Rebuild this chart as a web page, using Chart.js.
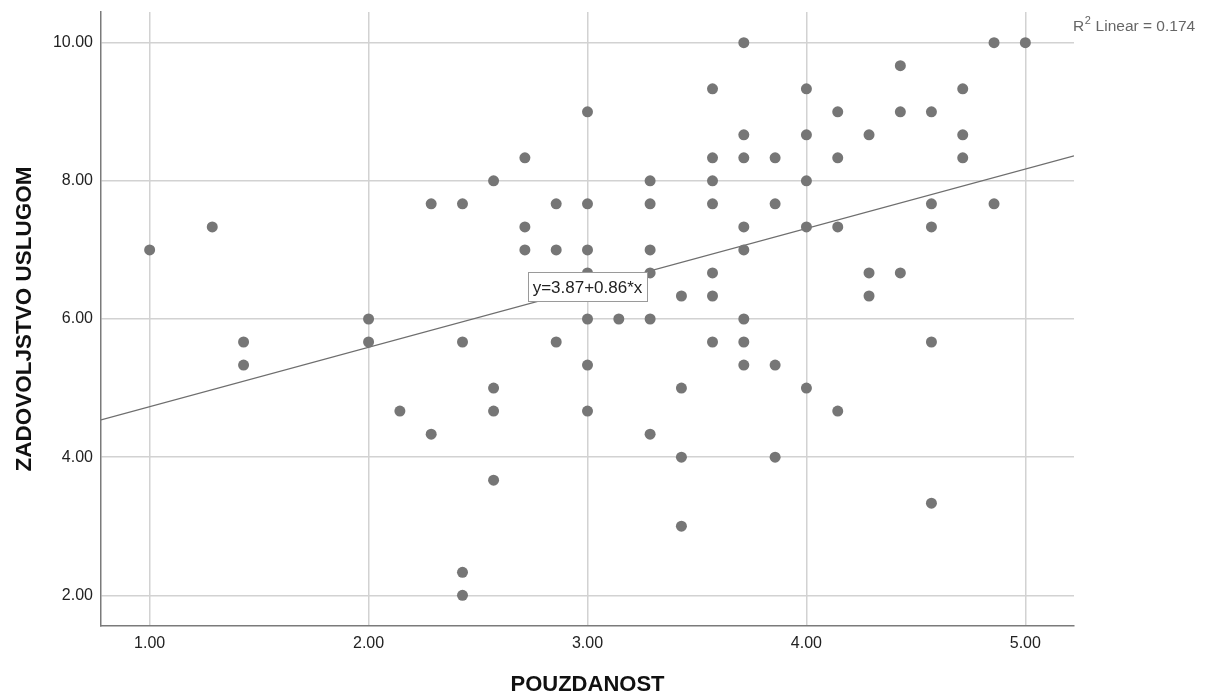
<!DOCTYPE html>
<html>
<head>
<meta charset="utf-8">
<script src="https://cdn.jsdelivr.net/npm/chart.js@4/dist/chart.umd.min.js"></script>
<style>
  html, body { margin: 0; padding: 0; background: #ffffff; }
  #wrap { width: 1206px; height: 700px; position: relative; }
</style>
</head>
<body>
<div id="wrap"><canvas id="c" width="1206" height="700"></canvas></div>
<script>
// ---- data ----
const pouzdanost = [
  1.000, 1.286, 1.429, 1.429, 2.000, 2.000, 2.143, 2.286, 2.286, 2.429,
  2.429, 2.429, 2.429, 2.571, 2.571, 2.571, 2.571, 2.714, 2.714, 2.714,
  2.857, 2.857, 2.857, 3.000, 3.000, 3.000, 3.000, 3.000, 3.000, 3.000,
  3.143, 3.286, 3.286, 3.286, 3.286, 3.286, 3.286, 3.429, 3.429, 3.429,
  3.429, 3.571, 3.571, 3.571, 3.571, 3.571, 3.571, 3.571, 3.714, 3.714,
  3.714, 3.714, 3.714, 3.714, 3.714, 3.714, 3.857, 3.857, 3.857, 3.857,
  4.000, 4.000, 4.000, 4.000, 4.000, 4.143, 4.143, 4.143, 4.143, 4.286,
  4.286, 4.286, 4.429, 4.429, 4.429, 4.571, 4.571, 4.571, 4.571, 4.571,
  4.714, 4.714, 4.714, 4.857, 4.857, 5.000
];
const zadovoljstvo = [
  7.000, 7.333, 5.667, 5.333, 6.000, 5.667, 4.667, 7.667, 4.333, 7.667,
  5.667, 2.333, 2.000, 8.000, 5.000, 4.667, 3.667, 8.333, 7.333, 7.000,
  7.667, 7.000, 5.667, 9.000, 7.667, 7.000, 6.667, 6.000, 5.333, 4.667,
  6.000, 8.000, 7.667, 7.000, 6.667, 6.000, 4.333, 6.333, 5.000, 4.000,
  3.000, 9.333, 8.333, 8.000, 7.667, 6.667, 6.333, 5.667, 10.000, 8.667,
  8.333, 7.333, 7.000, 6.000, 5.667, 5.333, 8.333, 7.667, 5.333, 4.000,
  9.333, 8.667, 8.000, 7.333, 5.000, 9.000, 8.333, 7.333, 4.667, 8.667,
  6.667, 6.333, 9.667, 9.000, 6.667, 9.000, 7.667, 7.333, 5.667, 3.333,
  9.333, 8.667, 8.333, 10.000, 7.667, 10.000
];
const xTicks = [1, 2, 3, 4, 5];
const yTicks = [2, 4, 6, 8, 10];
const xTitle = 'POUZDANOST';
const yTitle = 'ZADOVOLJSTVO USLUGOM';
const fitIntercept = 3.87;
const fitSlope = 0.86;
const fitLabel = 'y=3.87+0.86*x';
const r2Label = '0.174';

// ---- axis ranges (SPSS style margins) ----
const xMin = 1 - 4 / 18, xMax = 5 + 4 / 18;
const yMin = 2 - 8 / 18, yMax = 10 + 8 / 18;

const points = pouzdanost.map((x, i) => ({ x: x, y: zadovoljstvo[i] }));
const fitLine = [xMin, xMax].map(x => ({ x: x, y: fitIntercept + fitSlope * x }));

const FONT = "'Liberation Sans', Arial, sans-serif";

const annotPlugin = {
  id: 'annot',
  afterDatasetsDraw(chart) {
    const ctx = chart.ctx;
    const xs = chart.scales.x, ys = chart.scales.y;
    // equation label, centred on the fit line at x = 3
    const lx = 3.0;
    const px = xs.getPixelForValue(lx);
    const py = ys.getPixelForValue(fitIntercept + fitSlope * lx);
    ctx.save();
    ctx.font = '17px ' + FONT;
    const w = ctx.measureText(fitLabel).width + 9;
    const h = 29;
    const bx = Math.round(px - w / 2) + 0.5, by = Math.round(py - h / 2) - 0.5;
    ctx.fillStyle = '#ffffff';
    ctx.fillRect(bx, by, Math.round(w), h);
    ctx.strokeStyle = '#9a9a9a';
    ctx.lineWidth = 1;
    ctx.strokeRect(bx, by, Math.round(w), h);
    ctx.fillStyle = '#222222';
    ctx.textAlign = 'center';
    ctx.textBaseline = 'middle';
    ctx.fillText(fitLabel, px, py);
    ctx.restore();

    // R² label at top right
    ctx.save();
    ctx.fillStyle = '#666666';
    ctx.textBaseline = 'alphabetic';
    ctx.textAlign = 'left';
    let x0 = 1073;
    const base = 31;
    ctx.font = '15.5px ' + FONT;
    ctx.fillText('R', x0, base);
    x0 += ctx.measureText('R').width;
    ctx.font = '11px ' + FONT;
    ctx.fillText('2', x0 + 0.5, base - 7);
    x0 += ctx.measureText('2').width + 1;
    ctx.font = '15.5px ' + FONT;
    ctx.fillText(' Linear = ' + r2Label, x0, base);
    ctx.restore();
  }
};

new Chart(document.getElementById('c'), {
  type: 'scatter',
  data: {
    datasets: [
      {
        type: 'line',
        data: fitLine,
        borderColor: '#6e6e6e',
        borderWidth: 1.2,
        pointRadius: 0,
        fill: false,
        order: 2
      },
      {
        data: points,
        backgroundColor: '#767676',
        borderColor: '#767676',
        borderWidth: 0,
        pointRadius: 5.5,
        order: 1
      }
    ]
  },
  options: {
    responsive: false,
    animation: false,
    devicePixelRatio: 1,
    layout: { padding: { left: 0, right: 132, top: 12, bottom: 0 } },
    plugins: { legend: { display: false }, tooltip: { enabled: false } },
    scales: {
      x: {
        type: 'linear',
        min: xMin, max: xMax,
        afterFit(s) { s.height = 74; s.paddingLeft = 0; s.paddingRight = 0; },
        afterBuildTicks(s) { s.ticks = xTicks.map(v => ({ value: v })); },
        ticks: {
          includeBounds: false,
          stepSize: 1,
          padding: 8,
          color: '#222222',
          font: { family: FONT, size: 16 },
          callback: v => Number(v).toFixed(2)
        },
        grid: { color: '#d2d2d2', lineWidth: 1.5, drawTicks: false },
        border: { color: '#7a7a7a', width: 1.5 },
        title: {
          display: true, text: xTitle, color: '#111111',
          font: { family: FONT, size: 22, weight: 'bold' },
          padding: { top: 0, bottom: 2 }
        }
      },
      y: {
        type: 'linear',
        min: yMin, max: yMax,
        afterFit(s) { s.width = 101; s.paddingTop = 0; s.paddingBottom = 0; },
        afterBuildTicks(s) { s.ticks = yTicks.map(v => ({ value: v })); },
        ticks: {
          includeBounds: false,
          stepSize: 2,
          padding: 8,
          color: '#222222',
          font: { family: FONT, size: 16 },
          callback: v => Number(v).toFixed(2)
        },
        grid: { color: '#d2d2d2', lineWidth: 1.5, drawTicks: false },
        border: { color: '#7a7a7a', width: 1.5 },
        title: {
          display: true, text: yTitle, color: '#111111',
          font: { family: FONT, size: 22.5, weight: 'bold' },
          padding: { top: 11, bottom: 0 }
        }
      }
    }
  },
  plugins: [annotPlugin]
});
</script>
</body>
</html>
